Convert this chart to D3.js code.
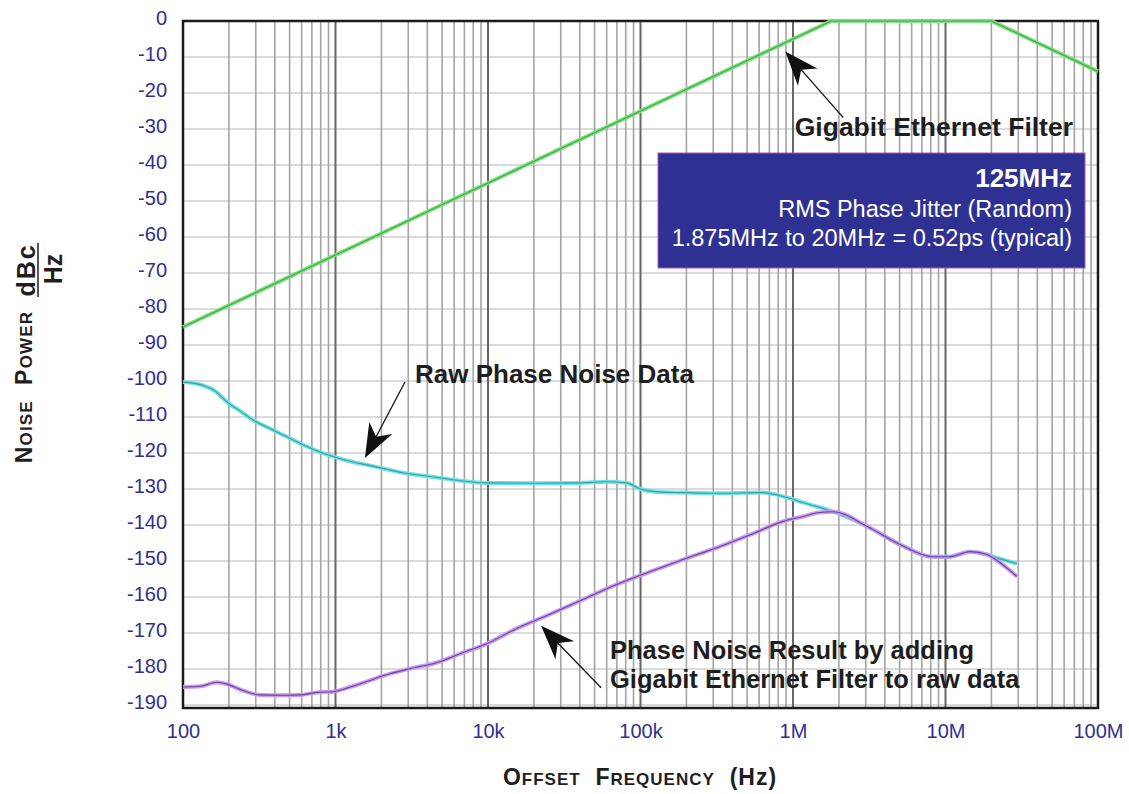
<!DOCTYPE html>
<html>
<head>
<meta charset="utf-8">
<script src="https://cdn.jsdelivr.net/npm/d3@7"></script>
<style>
  body { margin: 0; background: #fff; }
  svg { display: block; font-family: "Liberation Sans", Arial, Helvetica, sans-serif; }
</style>
</head>
<body>
<svg id="svg" width="1129" height="794"></svg>
<script>
// ---- data ----
var freqTicks = [100, 1e3, 1e4, 1e5, 1e6, 1e7, 1e8];
var freqLabels = ["100", "1k", "10k", "100k", "1M", "10M", "100M"];
var dbTicks = [0, -10, -20, -30, -40, -50, -60, -70, -80, -90, -100, -110, -120, -130, -140, -150, -160, -170, -180, -190];

// Gigabit Ethernet filter
var filterFreq = [100, 1e3, 1e4, 1e5, 1e6, 1.78e6, 2e7, 1e8];
var filterDb   = [-85, -65, -45, -25, -5, 0, 0, -14];

// raw phase noise data
var rawFreq = [100, 135, 165, 194, 240, 287, 372, 480, 612, 800, 1020, 1300, 1690, 2200, 2770, 3600, 4640, 6600, 9800,
  20900, 40000, 60000, 81000, 100000, 130000, 190000, 300000, 630000, 900000, 1.17e6, 1.83e6, 3.07e6, 5.03e6, 8.2e6,
  1.06e7, 1.45e7, 1.87e7, 2.2e7, 2.94e7];
var rawDb = [-100.3, -101.2, -103, -105.8, -108.5, -110.8, -113.2, -115.5, -117.7, -119.8, -121.3, -122.5, -123.5, -124.6, -125.5, -126.2, -126.8, -127.7, -128.3,
  -128.4, -128.3, -128.0, -128.3, -130.0, -130.8, -131.0, -131.2, -131.0, -132.3, -133.8, -136.3, -140.4, -145.4, -148.8,
  -148.8, -147.4, -148.2, -149.2, -150.7];

// phase noise result (raw + filter)
var resultFreq = [100, 130, 167, 194, 247, 320, 450, 585, 755, 960, 1250, 1600, 2050, 3000, 4640, 6600, 9800, 15000, 25500,
  41900, 70000, 115000, 190000, 317000, 525000, 860000, 1.2e6, 1.44e6, 1.83e6, 3.07e6, 5.03e6, 8.2e6, 1.06e7, 1.45e7, 1.87e7, 2.2e7, 2.94e7];
var resultDb = [-185, -184.8, -183.7, -184.2, -186, -187.2, -187.3, -187.2, -186.5, -186.3, -185, -183.5, -181.9, -180, -178.2, -175.7, -173, -169, -164.8,
  -160.7, -156.5, -153, -149.6, -146.3, -142.7, -139, -137.5, -136.6, -136.3, -140.4, -145.4, -148.8, -148.8, -147.4, -148.2, -150, -154.3];

function draw() {
  var svg = d3.select("#svg");

  var x = d3.scaleLog().domain([100, 1e8]).range([183, 1098]);
  var y = d3.scaleLinear().domain([0, -190]).range([21, 705]);

  var gGrid = svg.append("g");

  // minor + major vertical grid (1..9 per decade)
  var vLines = [];
  for (var d = 0; d < freqTicks.length - 1; d++) {
    for (var m = 2; m <= 9; m++) vLines.push({ f: freqTicks[d] * m, major: false });
  }
  freqTicks.slice(1, -1).forEach(function (f) { vLines.push({ f: f, major: true }); });

  gGrid.selectAll(".hgrid")
    .data(dbTicks)
    .enter()
    .append("line")
    .attr("x1", 183).attr("x2", 1098)
    .attr("y1", function (v) { return y(v); })
    .attr("y2", function (v) { return y(v); })
    .attr("stroke", "#cfcfcf")
    .attr("stroke-width", 1.5);

  gGrid.selectAll(".vgrid")
    .data(vLines)
    .enter()
    .append("line")
    .attr("x1", function (v) { return x(v.f); })
    .attr("x2", function (v) { return x(v.f); })
    .attr("y1", 21).attr("y2", 708)
    .attr("stroke", function (v) { return v.major ? "#666" : "#a4a4a4"; })
    .attr("stroke-width", function (v) { return v.major ? 2 : 1.6; });

  // frame
  svg.append("rect")
    .attr("x", 183).attr("y", 21)
    .attr("width", 1098 - 183).attr("height", 708 - 21)
    .attr("fill", "none")
    .attr("stroke", "#1a1a1a")
    .attr("stroke-width", 2.5);

  // axes labels
  var axisY = d3.axisLeft(y).tickValues(dbTicks)
    .tickFormat(function (d) { return String(d); })
    .tickSize(0).tickPadding(0);
  var gAxisY = svg.append("g").attr("transform", "translate(167,0)").call(axisY);
  gAxisY.select(".domain").remove();
  gAxisY.selectAll("text")
    .attr("dy", null)
    .attr("y", 3)
    .attr("fill", "#2e3192")
    .attr("font-size", "20px")
    .attr("font-family", "'Liberation Sans', Arial, sans-serif");

  var axisX = d3.axisBottom(x).tickValues(freqTicks)
    .tickFormat(function (d, i) { return freqLabels[i]; })
    .tickSize(0).tickPadding(0);
  var gAxisX = svg.append("g").attr("transform", "translate(0,738)").call(axisX);
  gAxisX.select(".domain").remove();
  gAxisX.selectAll("text")
    .attr("dy", null)
    .attr("y", 0)
    .attr("fill", "#2e3192")
    .attr("font-size", "20px")
    .attr("font-family", "'Liberation Sans', Arial, sans-serif");

  // curves
  var smooth = d3.line()
    .x(function (d) { return x(d[0]); })
    .y(function (d) { return y(d[1]); })
    .curve(d3.curveMonotoneX);
  var straight = d3.line()
    .x(function (d) { return x(d[0]); })
    .y(function (d) { return y(d[1]); });

  var series = [
    { f: filterFreq, v: filterDb, light: "#7ee07e", dark: "#2f9a3c", gen: straight },
    { f: rawFreq, v: rawDb, light: "#6fe3e3", dark: "#2a8d95", gen: smooth },
    { f: resultFreq, v: resultDb, light: "#c79af0", dark: "#5b2a8c", gen: smooth }
  ];
  series.forEach(function (s) {
    var pts = s.f.map(function (f, i) { return [f, s.v[i]]; });
    svg.append("path").datum(pts).attr("d", s.gen)
      .attr("fill", "none").attr("stroke", s.light).attr("stroke-width", 4).attr("stroke-linejoin", "round");
    svg.append("path").datum(pts).attr("d", s.gen)
      .attr("fill", "none").attr("stroke", s.dark).attr("stroke-width", 1.1).attr("stroke-opacity", 0.8);
  });

  // annotation arrows: tip anchored in data space, tail as pixel offset
  function arrow(tipF, tipDb, dx, dy) {
    var tx = x(tipF), ty = y(tipDb);
    var sx = tx + dx, sy = ty + dy;
    var len = Math.sqrt(dx * dx + dy * dy);
    var ux = dx / len, uy = dy / len;
    var px = -uy, py = ux;
    var hl = 34, hw = 13, notch = 24;
    svg.append("line")
      .attr("x1", sx).attr("y1", sy)
      .attr("x2", tx + ux * notch).attr("y2", ty + uy * notch)
      .attr("stroke", "#111").attr("stroke-width", 1.3);
    var head = [
      [tx, ty],
      [tx + ux * hl + px * hw, ty + uy * hl + py * hw],
      [tx + ux * notch, ty + uy * notch],
      [tx + ux * hl - px * hw, ty + uy * hl - py * hw]
    ];
    svg.append("path")
      .attr("d", "M" + head.map(function (p) { return p.join(","); }).join("L") + "Z")
      .attr("fill", "#111");
  }
  arrow(8.9e5, -8.5, 58, 66);
  arrow(1560, -121.4, 40, -76);
  arrow(22300, -168, 60, 62);

  function boldText(tx, ty, str, anchor, size) {
    svg.append("text")
      .attr("x", tx).attr("y", ty)
      .attr("text-anchor", anchor || "start")
      .attr("font-size", (size || 26) + "px")
      .attr("font-weight", "bold")
      .attr("fill", "#1e1e1e")
      .text(str);
  }
  boldText(1073, 136, "Gigabit Ethernet Filter", "end", 26.5);
  boldText(415, 383, "Raw Phase Noise Data");
  boldText(610, 659, "Phase Noise Result by adding", "start", 25.5);
  boldText(610, 688, "Gigabit Ethernet Filter to raw data", "start", 25.5);

  // info box
  svg.append("rect")
    .attr("x", 658).attr("y", 153)
    .attr("width", 1085 - 658).attr("height", 268 - 153)
    .attr("fill", "#2e3192")
    .attr("stroke", "#b050b8")
    .attr("stroke-width", 1);
  svg.append("text").attr("x", 1072).attr("y", 187)
    .attr("text-anchor", "end").attr("font-size", "26px").attr("font-weight", "bold")
    .attr("fill", "#fff").text("125MHz");
  svg.append("text").attr("x", 1072).attr("y", 217)
    .attr("text-anchor", "end").attr("font-size", "23.5px")
    .attr("fill", "#fff").text("RMS Phase Jitter (Random)");
  svg.append("text").attr("x", 1072).attr("y", 246)
    .attr("text-anchor", "end").attr("font-size", "23.5px")
    .attr("fill", "#fff").text("1.875MHz to 20MHz = 0.52ps (typical)");

  // small-caps axis titles
  function smallCaps(g, parts) {
    parts.forEach(function (p) {
      g.append("tspan")
        .attr("font-size", p[1] ? "23px" : "17px")
        .text(p[0]);
    });
  }
  var xTitle = svg.append("text")
    .attr("x", 640).attr("y", 785)
    .attr("text-anchor", "middle")
    .attr("font-weight", "bold")
    .attr("letter-spacing", "1px")
    .attr("fill", "#1e1e1e")
    .style("white-space", "pre");
  smallCaps(xTitle, [["O", 1], ["FFSET", 0], ["  F", 1], ["REQUENCY", 0], ["  (Hz)", 1]]);

  var yTitle = svg.append("text")
    .attr("transform", "translate(32,387) rotate(-90)")
    .attr("text-anchor", "middle")
    .attr("font-weight", "bold")
    .attr("letter-spacing", "1.2px")
    .attr("fill", "#1e1e1e")
    .style("white-space", "pre");
  smallCaps(yTitle, [["N", 1], ["OISE", 0], ["  P", 1], ["OWER", 0]]);

  svg.append("text")
    .attr("transform", "translate(35,270) rotate(-90)")
    .attr("text-anchor", "middle")
    .attr("font-size", "25px").attr("font-weight", "bold")
    .attr("letter-spacing", "2px")
    .attr("fill", "#1e1e1e")
    .text("dBc");
  svg.append("line")
    .attr("x1", 38).attr("x2", 38)
    .attr("y1", 243).attr("y2", 297)
    .attr("stroke", "#1e1e1e").attr("stroke-width", 1.5);
  svg.append("text")
    .attr("transform", "translate(62,269) rotate(-90)")
    .attr("text-anchor", "middle")
    .attr("font-size", "25px").attr("font-weight", "bold")
    .attr("fill", "#1e1e1e")
    .text("Hz");
}
draw();
</script>
</body>
</html>
